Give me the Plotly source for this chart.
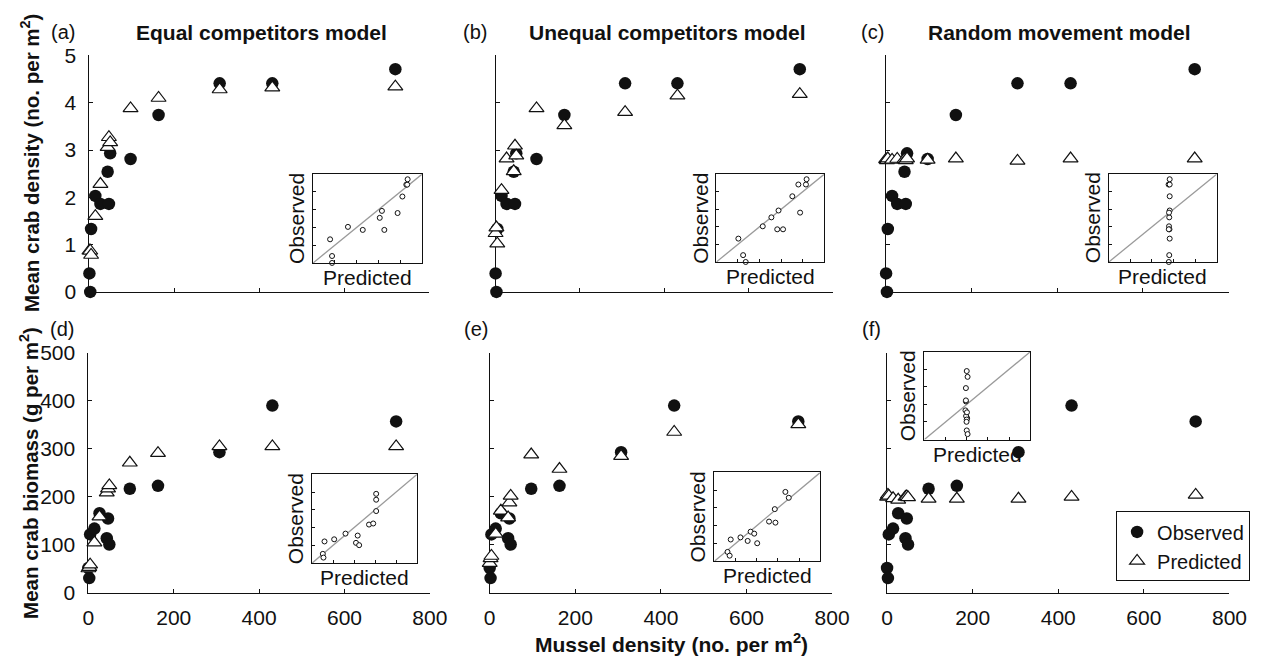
import plotly.graph_objects as go

# ---------------- data ----------------
mussel_density = [0, 2, 4, 14, 26, 43, 46, 49, 97, 163, 307, 431, 721]

observed_crab_density = [0.39, 0.0, 1.33, 2.03, 1.86, 2.54, 1.86, 2.93, 2.81, 3.74, 4.41, 4.41, 4.71]
pred_density_equal = [0.87, 0.87, 0.78, 1.60, 2.28, 3.06, 3.27, 3.16, 3.88, 4.10, 4.28, 4.32, 4.34]
pred_density_unequal = [1.24, 1.36, 1.02, 2.15, 2.82, 2.55, 3.09, 2.88, 3.88, 3.52, 3.80, 4.15, 4.18]
pred_density_random = [2.80, 2.78, 2.82, 2.79, 2.81, 2.80, 2.78, 2.82, 2.79, 2.82, 2.77, 2.82, 2.82]

observed_crab_biomass = [52, 31, 122, 134, 166, 114, 155, 101, 217, 223, 293, 390, 357]
pred_biomass_equal = [51, 54, 59, 105, 159, 209, 217, 224, 271, 291, 305, 305, 305]
pred_biomass_unequal = [62, 72, 77, 123, 171, 157, 188, 202, 288, 258, 285, 335, 351]
pred_biomass_random = [200, 204, 202, 197, 194, 200, 201, 199, 196, 196, 196, 200, 204]

x_ticks = [0, 200, 400, 600, 800]
density_ticks = [0, 1, 2, 3, 4, 5]
biomass_ticks = [0, 100, 200, 300, 400, 500]
density_inset_ticks = [0, 1, 2, 3, 4, 5]
biomass_inset_ticks = [0, 100, 200, 300, 400, 500]

panel_letters = ["(a)", "(b)", "(c)", "(d)", "(e)", "(f)"]
model_titles = ["Equal competitors model", "Unequal competitors model", "Random movement model"]

# ---------------- layout geometry (pixels) ----------------
W, H = 1273, 660
FONT = "Liberation Sans, Arial, Helvetica, sans-serif"
BLACK = "#111111"


def fx(p):
    return p / W


def fy(p):
    return 1 - p / H


# main panel boxes: (x0, x1, ytop, ybottom)
main_boxes = [
    (85, 431, 45, 290),
    (499, 843, 45, 290),
    (897, 1246, 45, 290),
    (84, 432, 353, 602),
    (493, 842, 353, 602),
    (898, 1247, 353, 602),
]
inset_boxes = [
    (313, 424, 168, 260),
    (724, 834, 168, 259),
    (1124, 1234, 168, 259),
    (312, 419, 479, 571),
    (722, 830, 477, 569),
    (936, 1044, 352, 443),
]

panels = [
    (observed_crab_density, pred_density_equal, density_ticks, density_inset_ticks),
    (observed_crab_density, pred_density_unequal, density_ticks, density_inset_ticks),
    (observed_crab_density, pred_density_random, density_ticks, density_inset_ticks),
    (observed_crab_biomass, pred_biomass_equal, biomass_ticks, biomass_inset_ticks),
    (observed_crab_biomass, pred_biomass_unequal, biomass_ticks, biomass_inset_ticks),
    (observed_crab_biomass, pred_biomass_random, biomass_ticks, biomass_inset_ticks),
]

fig = go.Figure()
layout = {}
annotations = []


def axname(i):
    return ("xaxis" if i == 1 else f"xaxis{i}"), ("yaxis" if i == 1 else f"yaxis{i}")


def ref(i):
    return ("x" if i == 1 else f"x{i}"), ("y" if i == 1 else f"y{i}")


for k, (obs, pred, yt, it) in enumerate(panels):
    i_main = k + 1
    i_in = k + 7
    x0, x1, yt0, yb0 = main_boxes[k]
    xa, ya = axname(i_main)
    xr, yr = ref(i_main)
    bottom = k >= 3
    left = k % 3 == 0

    layout[xa] = dict(
        domain=[fx(x0), fx(x1)], range=[x_ticks[0], x_ticks[-1]], anchor=yr,
        tickvals=x_ticks, showticklabels=bottom, ticks="inside", ticklen=4,
        tickwidth=1, tickcolor=BLACK, showline=True, linecolor=BLACK, linewidth=1,
        showgrid=False, zeroline=False, layer="below traces",
        tickfont=dict(family=FONT, size=21, color=BLACK), ticklabelstandoff=6,
    )
    layout[ya] = dict(
        domain=[fy(yb0), fy(yt0)], range=[yt[0], yt[-1]], anchor=xr,
        tickvals=yt, showticklabels=left, ticks="inside", ticklen=4,
        tickwidth=1, tickcolor=BLACK, showline=True, linecolor=BLACK, linewidth=1,
        showgrid=False, zeroline=False, layer="below traces",
        tickfont=dict(family=FONT, size=21, color=BLACK), ticklabelstandoff=8,
    )

    fig.add_trace(go.Scatter(
        x=mussel_density, y=obs, xaxis=xr, yaxis=yr, mode="markers",
        marker=dict(symbol="circle", size=12.5, color=BLACK, line=dict(width=0)),
        cliponaxis=False, name="Observed", showlegend=(k == 5), legendgroup="obs",
    ))
    fig.add_trace(go.Scatter(
        x=mussel_density, y=pred, xaxis=xr, yaxis=yr, mode="markers",
        marker=dict(symbol="triangle-up", size=13, color="white",
                    line=dict(width=1.2, color=BLACK)),
        cliponaxis=False, name="Predicted", showlegend=(k == 5), legendgroup="pred",
    ))

    # inset: observed vs predicted with 1:1 line
    ix0, ix1, iy0, iy1 = inset_boxes[k]
    xa2, ya2 = axname(i_in)
    xr2, yr2 = ref(i_in)
    common = dict(
        range=[it[0], it[-1]], tickvals=it, showticklabels=False, ticks="inside",
        ticklen=3, tickwidth=1, tickcolor=BLACK, showline=True, mirror=True,
        linecolor=BLACK, linewidth=1, showgrid=False, zeroline=False,
    )
    layout[xa2] = dict(domain=[fx(ix0), fx(ix1)], anchor=yr2, **common)
    layout[ya2] = dict(domain=[fy(iy1), fy(iy0)], anchor=xr2, **common)

    fig.add_trace(go.Scatter(
        x=[it[0], it[-1]], y=[it[0], it[-1]], xaxis=xr2, yaxis=yr2, mode="lines",
        line=dict(color="#9a9a9a", width=1.3), showlegend=False, hoverinfo="skip",
    ))
    fig.add_trace(go.Scatter(
        x=pred, y=obs, xaxis=xr2, yaxis=yr2, mode="markers",
        marker=dict(symbol="circle", size=5, color="white", line=dict(width=1, color=BLACK)),
        cliponaxis=False, showlegend=False,
    ))

    annotations.append(dict(
        text="Observed", x=fx(ix0 - 17), y=fy((iy0 + iy1) / 2), xref="paper", yref="paper",
        textangle=-90, showarrow=False, xanchor="center", yanchor="middle",
        font=dict(family=FONT, size=21, color=BLACK),
    ))
    annotations.append(dict(
        text="Predicted", x=fx((ix0 + ix1) / 2), y=fy(iy1 + 1), xref="paper", yref="paper",
        showarrow=False, xanchor="center", yanchor="top",
        font=dict(family=FONT, size=21, color=BLACK),
    ))

# panel letters
letter_pos = [(58, 21), (478, 21), (883, 21), (57, 328), (479, 328), (882, 328)]
for lab, (px, py) in zip(panel_letters, letter_pos):
    annotations.append(dict(
        text=lab, x=fx(px), y=fy(py), xref="paper", yref="paper", showarrow=False,
        xanchor="center", yanchor="middle", font=dict(family=FONT, size=20, color=BLACK),
    ))

# model titles
title_pos = [(260, 21), (674, 21), (1074, 21)]
for t, (px, py) in zip(model_titles, title_pos):
    annotations.append(dict(
        text=f"<b>{t}</b>", x=fx(px), y=fy(py), xref="paper", yref="paper",
        showarrow=False, xanchor="center", yanchor="middle",
        font=dict(family=FONT, size=21, color=BLACK),
    ))

# axis titles
annotations.append(dict(
    text="<b>Mean crab density (no. per m<sup>2</sup>)</b>", x=fx(24), y=fy(157),
    xref="paper", yref="paper", textangle=-90, showarrow=False,
    xanchor="center", yanchor="middle", font=dict(family=FONT, size=20.5, color=BLACK),
))
annotations.append(dict(
    text="<b>Mean crab biomass (g per m<sup>2</sup>)</b>", x=fx(24), y=fy(478),
    xref="paper", yref="paper", textangle=-90, showarrow=False,
    xanchor="center", yanchor="middle", font=dict(family=FONT, size=20.5, color=BLACK),
))
annotations.append(dict(
    text="<b>Mussel density (no. per m<sup>2</sup>)</b>", x=fx(678), y=fy(654),
    xref="paper", yref="paper", showarrow=False,
    xanchor="center", yanchor="middle", borderpad=0,
    font=dict(family=FONT, size=21, color=BLACK),
))

fig.update_layout(
    width=W, height=H, margin=dict(l=0, r=0, t=0, b=0),
    paper_bgcolor="white", plot_bgcolor="rgba(0,0,0,0)",
    annotations=annotations,
    showlegend=True,
    legend=dict(
        x=fx(1268), y=fy(590), xanchor="right", yanchor="bottom",
        bordercolor=BLACK, borderwidth=1, bgcolor="white",
        font=dict(family=FONT, size=20, color=BLACK), itemwidth=30,
        tracegroupgap=0,
    ),
    **layout,
)

fig.write_html("out.html")
